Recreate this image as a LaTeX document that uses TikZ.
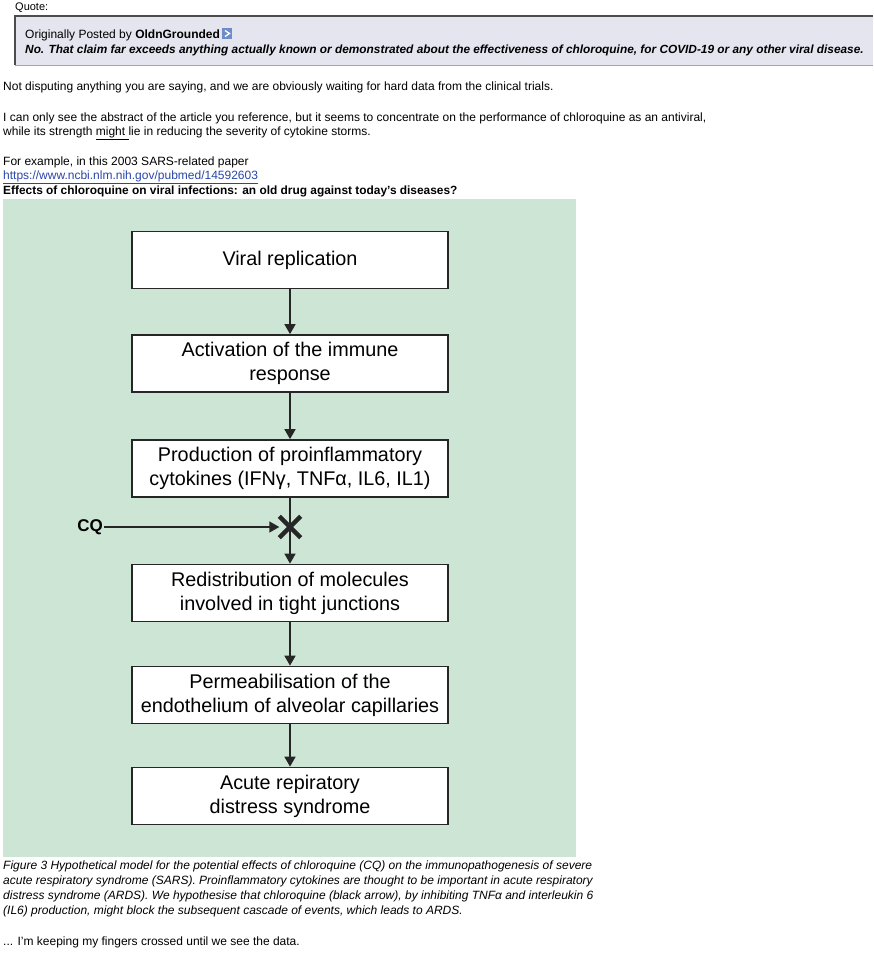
\documentclass[tikz,border=0pt]{standalone}
\usepackage{fontspec}
\setmainfont{Liberation Sans}
\usetikzlibrary{arrows.meta}
\definecolor{panel}{RGB}{205,229,212}
\definecolor{quotebg}{RGB}{228,229,238}
\definecolor{linkblue}{RGB}{40,70,170}
\definecolor{iconblue}{RGB}{110,140,200}
\begin{document}
\begin{tikzpicture}[x=1pt,y=-1pt,
  body/.style={anchor=base west,inner sep=0pt,font=\fontsize{12}{14}\selectfont},
  captext/.style={anchor=base west,inner sep=0pt,font=\fontsize{12}{14}\selectfont\itshape},
  flowbox/.style={draw=black!85,line width=1.7pt,fill=white,minimum width=316pt,minimum height=57pt,align=center,inner sep=2pt,font=\fontsize{19.8}{24}\selectfont},
  arr/.style={line width=1.5pt,draw=black!85,-{Triangle[length=10pt,width=11pt]}}]
\useasboundingbox (0,0) rectangle (873,953);
\fill[white] (0,0) rectangle (873,953);
% quote
\node[body,font=\fontsize{11}{13}\selectfont] (qlabel) at (15,10) {Quote:};
\fill[quotebg] (15,16) rectangle (873,65);
\draw[black!70,line width=1.2pt] (15,65) -- (15,16) -- (873,16);
\draw[black!35,line width=1pt] (15,65) -- (873,65);
\node[body] (posted) at (25,38) {Originally Posted by \textbf{OldnGrounded}};
\fill[iconblue] (221.5,28) rectangle (232,39);
\draw[white,line width=1.3pt] (225,30.5) -- (229.5,33.5) -- (225,36.5);
\node[body,font=\fontsize{11.85}{14}\selectfont\bfseries\itshape] (qtext) at (25,53) {No. That claim far exceeds anything actually known or demonstrated about the effectiveness of chloroquine, for COVID-19 or any other viral disease.};
% body text
\node[body] (t1) at (3,90) {Not disputing anything you are saying, and we are obviously waiting for hard data from the clinical trials.};
\node[body] (t2) at (3,121) {I can only see the abstract of the article you reference, but it seems to concentrate on the performance of chloroquine as an antiviral,};
\node[body] (t3) at (3,135) {while its strength \underline{might }lie in reducing the severity of cytokine storms.};
\node[body] (t4) at (3,165) {For example, in this 2003 SARS-related paper};
\node[body,text=linkblue] (t5) at (3,179) {\underline{https://www.ncbi.nlm.nih.gov/pubmed/14592603}};
\node[body,font=\fontsize{11.9}{14}\selectfont\bfseries] (t6) at (3,194) {Effects of chloroquine on viral infections: an old drug against today's diseases?};
% panel
\fill[panel] (3,199) rectangle (576,857);
\node[flowbox] (b1) at (290,260) {Viral replication};
\node[flowbox] (b2) at (290,363.5) {Activation of the immune\\response};
\node[flowbox] (b3) at (290,468.5) {Production of proinflammatory\\cytokines (IFNγ, TNFα, IL6, IL1)};
\node[flowbox] (b4) at (290,593) {Redistribution of molecules\\involved in tight junctions};
\node[flowbox] (b5) at (290,695) {Permeabilisation of the\\endothelium of alveolar capillaries};
\node[flowbox] (b6) at (290,796) {Acute repiratory\\distress syndrome};
\node[minimum size=21pt,inner sep=0pt] (xm) at (290,527) {};
\node[anchor=east,inner sep=1pt,font=\fontsize{17}{20}\selectfont\bfseries] (cq) at (104,527) {CQ};
\draw[arr] (b1) -- (b2);
\draw[arr] (b2) -- (b3);
\draw[line width=1.5pt,draw=black!85] (b3.south) -- (xm.center);
\draw[arr] (xm.center) -- (b4.north);
\draw[arr] (cq.east) -- (xm.west);
\draw[line width=4.5pt,draw=black!85] (xm.north west) -- (xm.south east) (xm.south west) -- (xm.north east);
\draw[arr] (b4) -- (b5);
\draw[arr] (b5) -- (b6);
% caption
\node[captext] (c1) at (3,869) {Figure 3 Hypothetical model for the potential effects of chloroquine (CQ) on the immunopathogenesis of severe};
\node[captext] (c2) at (3,884) {acute respiratory syndrome (SARS). Proinflammatory cytokines are thought to be important in acute respiratory};
\node[captext] (c3) at (3,899) {distress syndrome (ARDS). We hypothesise that chloroquine (black arrow), by inhibiting TNFα and interleukin 6};
\node[captext] (c4) at (3,914) {(IL6) production, might block the subsequent cascade of events, which leads to ARDS.};
\node[body] (t7) at (3,945) {... I'm keeping my fingers crossed until we see the data.};
\end{tikzpicture}
\end{document}
